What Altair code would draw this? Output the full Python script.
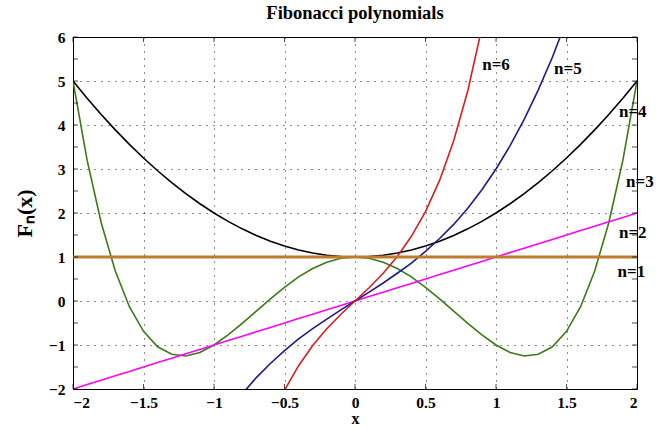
import altair as alt
import pandas as pd

# x samples
X = [-2.0, -1.9, -1.8, -1.7, -1.6, -1.5, -1.4, -1.3, -1.2, -1.1, -1.0,
     -0.9, -0.8, -0.7, -0.6, -0.5, -0.4, -0.3, -0.2, -0.1, 0.0,
     0.1, 0.2, 0.3, 0.4, 0.5, 0.6, 0.7, 0.8, 0.9, 1.0,
     1.1, 1.2, 1.3, 1.4, 1.5, 1.6, 1.7, 1.8, 1.9, 2.0]

F1 = [1.0] * 41
F2 = [-2.0, -1.9, -1.8, -1.7, -1.6, -1.5, -1.4, -1.3, -1.2, -1.1, -1.0,
      -0.9, -0.8, -0.7, -0.6, -0.5, -0.4, -0.3, -0.2, -0.1, 0.0,
      0.1, 0.2, 0.3, 0.4, 0.5, 0.6, 0.7, 0.8, 0.9, 1.0,
      1.1, 1.2, 1.3, 1.4, 1.5, 1.6, 1.7, 1.8, 1.9, 2.0]
F3 = [5.00, 4.61, 4.24, 3.89, 3.56, 3.25, 2.96, 2.69, 2.44, 2.21, 2.00,
      1.81, 1.64, 1.49, 1.36, 1.25, 1.16, 1.09, 1.04, 1.01, 1.00,
      1.01, 1.04, 1.09, 1.16, 1.25, 1.36, 1.49, 1.64, 1.81, 2.00,
      2.21, 2.44, 2.69, 2.96, 3.25, 3.56, 3.89, 4.24, 4.61, 5.00]
F4 = [-12.00, -10.66, -9.43, -8.31, -7.30, -6.38, -5.54, -4.80, -4.13, -3.53, -3.00,
      -2.53, -2.11, -1.74, -1.42, -1.13, -0.86, -0.63, -0.41, -0.20, 0.00,
      0.20, 0.41, 0.63, 0.86, 1.13, 1.42, 1.74, 2.11, 2.53, 3.00,
      3.53, 4.13, 4.80, 5.54, 6.38, 7.30, 8.31, 9.43, 10.66, 12.00]
F5 = [5.00, 3.20, 1.78, 0.68, -0.13, -0.69, -1.04, -1.21, -1.25, -1.17, -1.00,
      -0.77, -0.51, -0.23, 0.05, 0.31, 0.55, 0.74, 0.88, 0.97, 1.00,
      0.97, 0.88, 0.74, 0.55, 0.31, 0.05, -0.23, -0.51, -0.77, -1.00,
      -1.17, -1.25, -1.21, -1.04, -0.69, -0.13, 0.68, 1.78, 3.20, 5.00]
F6 = [-70.00, -57.90, -47.62, -38.95, -31.67, -25.59, -20.55, -16.40, -13.00, -10.23, -8.00,
      -6.21, -4.78, -3.64, -2.74, -2.03, -1.47, -1.01, -0.63, -0.30, 0.00,
      0.30, 0.63, 1.01, 1.47, 2.03, 2.74, 3.64, 4.78, 6.21, 8.00,
      10.23, 13.00, 16.40, 20.55, 25.59, 31.67, 38.95, 47.62, 57.90, 70.00]

LABELS = ["n=6", "n=5", "n=4", "n=3", "n=2", "n=1"]
LABEL_X = [1.00, 1.51, 1.97, 2.02, 1.97, 1.96]
LABEL_Y = [5.36, 5.27, 4.30, 2.70, 1.55, 0.66]

X_TICKS = [-2, -1.5, -1, -0.5, 0, 0.5, 1, 1.5, 2]
Y_TICKS = [-2, -1, 0, 1, 2, 3, 4, 5, 6]
Y_MINOR = [-2, -1.5, -1, -0.5, 0, 0.5, 1, 1.5, 2, 2.5, 3, 3.5, 4, 4.5, 5, 5.5, 6]

FONT = "Liberation Serif"
W, H = 564, 352

xs = alt.Scale(domain=[-2, 2], nice=False, zero=False)
ys = alt.Scale(domain=[-2, 6], nice=False, zero=False)

series = [
    ("F5", F5, "#3d7a17", 1.6),
    ("F3", F3, "#000000", 1.6),
    ("F2", F2, "#ff00ff", 1.6),
    ("F4", F4, "#1c1c8c", 1.6),
    ("F6", F6, "#d81e1e", 1.6),
    ("F1", F1, "#c27a2c", 2.8),
]

layers = []
first = True
for name, vals, col, w in series:
    df = pd.DataFrame({"x": X, "y": vals})
    if first:
        xenc = alt.X("x:Q", scale=xs, title="x",
                     axis=alt.Axis(values=X_TICKS, format="~g"))
        yenc = alt.Y("y:Q", scale=ys, title="Fₙ(x)",
                     axis=alt.Axis(values=Y_TICKS, format="d"))
        first = False
    else:
        xenc = alt.X("x:Q", scale=xs)
        yenc = alt.Y("y:Q", scale=ys)
    layers.append(
        alt.Chart(df).mark_line(color=col, strokeWidth=w, clip=True).encode(x=xenc, y=yenc)
    )

# inward ticks
xt = pd.DataFrame({"v": X_TICKS})
yt = pd.DataFrame({"v": Y_MINOR})
for ypix in [H - 2.5, 2.5]:
    layers.append(alt.Chart(xt).mark_tick(color="black", size=5, thickness=1, orient="vertical")
                  .encode(x=alt.X("v:Q", scale=xs), y=alt.value(ypix)))
for xpix in [2.5, W - 2.5]:
    layers.append(alt.Chart(yt).mark_tick(color="black", size=5, thickness=1, orient="horizontal")
                  .encode(y=alt.Y("v:Q", scale=ys), x=alt.value(xpix)))

lab = pd.DataFrame({"t": LABELS, "x": LABEL_X, "y": LABEL_Y})
layers.append(alt.Chart(lab).mark_text(font=FONT, fontWeight="bold", fontSize=17, color="black")
              .encode(x=alt.X("x:Q", scale=xs), y=alt.Y("y:Q", scale=ys), text="t:N"))

chart = alt.layer(*layers).properties(
    width=W, height=H,
    background="white",
    title=alt.TitleParams("Fibonacci polynomials", font=FONT, fontSize=18.5, fontWeight="bold",
                          anchor="middle", offset=8, color="black"),
    autosize="none",
    padding={"left": 73, "top": 37, "right": 29, "bottom": 39},
).configure_view(stroke="black", strokeWidth=1).configure_axis(
    labelFont=FONT, labelFontSize=15.5, labelFontWeight="bold", labelColor="black",
    titleFont=FONT, titleFontWeight="bold", titleColor="black",
    domainColor="black", tickSize=0, grid=True, gridColor="black", gridDash=[1, 6],
    gridOpacity=0.9, gridWidth=1,
).configure_axisX(
    labelPadding=6, titleFontSize=16, titlePadding=0,
).configure_axisY(
    labelPadding=8, titleFontSize=22, titlePadding=12,
)

chart.save("out.html", embed_options={"renderer": "svg", "actions": False})
